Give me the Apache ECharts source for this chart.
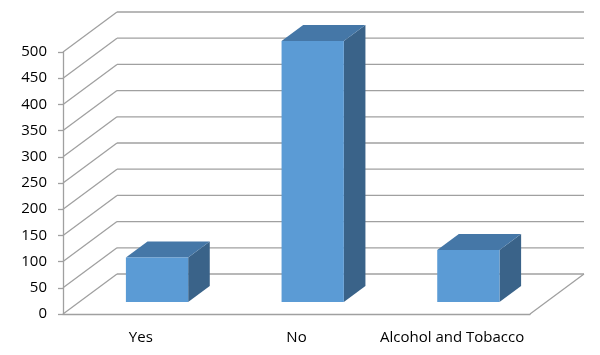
<!DOCTYPE html>
<html><head><meta charset="utf-8">
<script src="https://cdn.jsdelivr.net/npm/echarts@6/dist/echarts.min.js"></script>
<style>html,body{margin:0;padding:0;background:#fff}#c{width:600px;height:355px}</style>
</head><body><div id="c"></div>
<script>
const categories = ['Yes', 'No', 'Alcohol and Tobacco'];
const values = [85, 498, 99];
const yTicks = [0, 50, 100, 150, 200, 250, 300, 350, 400, 450, 500];

const DX = 54, DY = -40, FRONT = 0.3, DEPTH = 0.4, BARW = 0.4;
const grey = '#A0A0A0';
const font = 'Open Sans';
const chart = echarts.init(document.getElementById('c'));
chart.setOption({
  animation: false,
  grid: { left: 63, right: 70, top: 52, bottom: 41 },
  xAxis: {
    type: 'category', data: categories,
    axisLine: { lineStyle: { color: grey, width: 1.3 } },
    axisTick: { length: 6, lineStyle: { color: grey, width: 1.3 } },
    axisLabel: { color: '#000', fontFamily: font, fontSize: 15, margin: 16, interval: 0 },
    splitLine: { show: false }
  },
  yAxis: {
    type: 'value', min: 0, max: 500, interval: 50,
    axisLine: { show: true, lineStyle: { color: grey, width: 1.3 } },
    axisTick: { show: true, length: 5, lineStyle: { color: grey, width: 1.3 } },
    axisLabel: { color: '#000', fontFamily: font, fontSize: 15, margin: 16 },
    splitLine: { show: false }
  },
  series: [
    {
      type: 'custom', silent: true, z: 1,
      data: yTicks.map(v => [0, v]),
      renderItem: (params, api) => {
        const cs = params.coordSys;
        const v = api.value(1);
        const y = api.coord([0, v])[1];
        const x0 = cs.x, x1 = cs.x + cs.width;
        const st = { stroke: grey, lineWidth: 1.3 };
        const children = [
          { type: 'line', shape: { x1: x0, y1: y, x2: x0 + DX, y2: y + DY }, style: st },
          { type: 'line', shape: { x1: x0 + DX, y1: y + DY, x2: x1 + DX, y2: y + DY }, style: st }
        ];
        if (v === 0) children.push({ type: 'line', shape: { x1: x1, y1: y, x2: x1 + DX, y2: y + DY }, style: st });
        return { type: 'group', children };
      }
    },
    {
      type: 'custom', silent: true, z: 3,
      data: values.map((v, i) => [i, v]),
      renderItem: (params, api) => {
        const i = api.value(0), v = api.value(1);
        const p0 = api.coord([i, 0]), p1 = api.coord([i, v]);
        const w = api.size([1, 0])[0] * BARW;
        const fx = FRONT * DX, fy = FRONT * DY, bx = DEPTH * DX, by = DEPTH * DY;
        const L = p0[0] - w / 2 + fx, R = p0[0] + w / 2 + fx, B = p0[1] + fy, T = p1[1] + fy;
        return {
          type: 'group', children: [
            { type: 'polygon', shape: { points: [[R, T], [R + bx, T + by], [R + bx, B + by], [R, B]] }, style: { fill: '#3A6389' } },
            { type: 'polygon', shape: { points: [[L, T], [R, T], [R + bx, T + by], [L + bx, T + by]] }, style: { fill: '#4577A7' } },
            { type: 'rect', shape: { x: L, y: T, width: w, height: B - T }, style: { fill: '#5B9BD5' } }
          ]
        };
      }
    }
  ]
});
</script></body></html>
